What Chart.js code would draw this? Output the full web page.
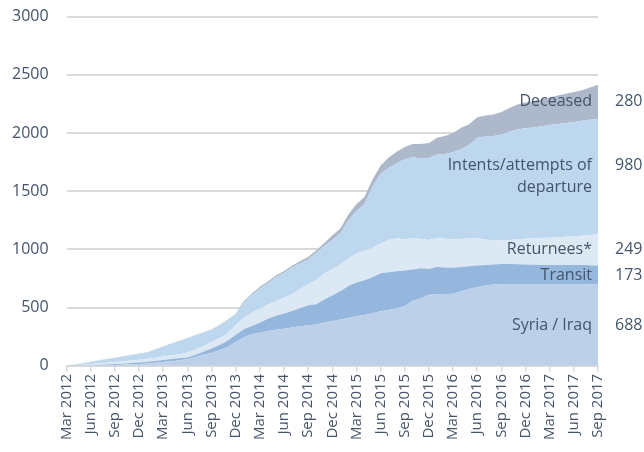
<!DOCTYPE html>
<html>
<head>
<meta charset="utf-8">
<script src="https://cdn.jsdelivr.net/npm/chart.js@4/dist/chart.umd.min.js"></script>
<style>
  html, body { margin: 0; padding: 0; background: #fff; overflow: hidden; }
  #wrap { position: absolute; left: -14px; top: -11px; width: 658px; height: 459px; }
</style>
</head>
<body>
<div id="wrap"><canvas id="grafico"></canvas></div>
<script>
// meses de Mar 2012 a Sep 2017 (um ponto por mes)
const nomesMes = ["Jan", "Feb", "Mar", "Apr", "May", "Jun", "Jul", "Aug", "Sep", "Oct", "Nov", "Dec"];
const meses = [];
for (let i = 0; i < 67; i++) {
  const m = (2 + i) % 12;
  const ano = 2012 + Math.floor((2 + i) / 12);
  meses.push(nomesMes[m] + " " + ano);
}

// valores de cada camada (empilhadas)
const syriaIraq = [0,1,2,3,4,6,8,10,13,16,20,26,32,40,48,57,75,95,110,135,160,205,245,271,285,300,310,318,329,340,348,355,372,383,398,410,425,437,452,468,480,495,515,560,580,610,617,618,620,640,660,675,690,698,703,703,703,703,703,703,703,703,703,703,702,700,698];
const transit = [0,1,2,3,5,6,7,9,11,13,15,16,18,18,17,15,20,25,40,45,55,60,70,72,85,105,120,132,142,155,172,175,198,222,242,275,290,298,308,327,325,317,303,268,258,222,233,227,222,208,196,187,176,172,171,171,169,167,165,164,163,163,163,163,164,165,164];
const returnees = [0,3,6,9,11,14,17,19,21,23,25,28,30,32,35,42,45,50,55,60,65,85,95,114,120,120,125,135,143,165,180,205,225,225,230,240,250,255,255,255,275,283,270,267,252,248,248,247,246,242,242,233,219,205,204,208,216,222,228,233,234,239,242,246,252,260,268];
const intents = [0,6,12,18,25,30,35,41,45,49,54,68,82,97,111,122,120,114,103,105,110,90,130,148,175,185,205,215,231,220,215,235,235,250,270,325,365,400,525,600,620,645,687,700,690,705,717,728,747,770,802,865,885,900,907,928,942,948,952,958,968,973,977,983,987,990,992];
const deceased = [0,1,1,2,2,3,3,3,4,4,3,4,4,4,4,4,4,5,5,5,5,8,15,15,15,15,15,15,15,20,20,20,25,40,40,50,60,60,60,70,90,100,105,110,125,130,145,155,165,185,175,175,180,185,195,205,215,222,224,232,237,244,253,257,263,275,293];

// rotulos a direita
const nomesSeries = [["Syria / Iraq"], ["Transit"], ["Returnees*"], ["Intents/attempts of", "departure"], ["Deceased"]];
const totais = ["688", "173", "249", "980", "280"];

const cores = ["#bcd0e9", "#95b7de", "#dde8f5", "#bdd7ee", "#adb9ca"];
const corTexto = "#44546A";
const fonte = '"Open Sans", sans-serif';

const valores = [syriaIraq, transit, returnees, intents, deceased];

const datasets = valores.map(function (dados, i) {
  return {
    label: nomesSeries[i].join(" "),
    data: dados,
    backgroundColor: cores[i],
    borderWidth: 0,
    pointRadius: 0,
    fill: i === 0 ? "origin" : "-1",
    tension: 0
  };
});

const rotulos = {
  id: "rotulos",
  afterDatasetsDraw(chart) {
    const ctx = chart.ctx;
    const y = chart.scales.y;
    const area = chart.chartArea;
    const ultimo = meses.length - 1;
    let base = 0;
    ctx.save();
    ctx.font = "16px " + fonte;
    ctx.fillStyle = corTexto;
    ctx.textBaseline = "middle";
    valores.forEach(function (dados, i) {
      const topo = base + dados[ultimo];
      const meio = y.getPixelForValue((base + topo) / 2);
      const linhas = nomesSeries[i];
      const alt = 22;
      const y0 = meio - (linhas.length - 1) * alt / 2;
      ctx.textAlign = "right";
      linhas.forEach(function (l, k) {
        ctx.fillText(l, area.right - 6, y0 + k * alt);
      });
      ctx.textAlign = "left";
      ctx.fillText(totais[i], area.right + 17, y0);
      base = topo;
    });
    ctx.restore();
  }
};

const myChart = new Chart(document.getElementById("grafico"), {
  type: "line",
  data: { labels: meses, datasets: datasets },
  plugins: [rotulos],
  options: {
    responsive: true,
    maintainAspectRatio: false,
    animation: false,
    layout: { padding: { left: 8, right: 46, top: 0, bottom: 6 } },
    plugins: { legend: { display: false }, tooltip: { enabled: false } },
    scales: {
      x: {
        grid: { drawOnChartArea: false, drawTicks: true, tickLength: 6, color: "#d9d9d9", lineWidth: 1.5 },
        border: { color: "#d9d9d9", width: 2 },
        ticks: {
          autoSkip: false,
          maxRotation: 90,
          minRotation: 90,
          padding: 2,
          color: corTexto,
          font: { family: fonte, size: 15 },
          callback: function (v, i) { return i % 3 === 0 ? meses[i] : null; }
        }
      },
      y: {
        stacked: true,
        min: 0,
        max: 3000,
        grid: { color: "#d9d9d9", lineWidth: 2, drawTicks: false },
        border: { display: false },
        ticks: {
          stepSize: 500,
          padding: 18,
          color: corTexto,
          font: { family: fonte, size: 16 },
          callback: function (v) { return String(v); }
        }
      }
    }
  }
});
</script>
</body>
</html>
